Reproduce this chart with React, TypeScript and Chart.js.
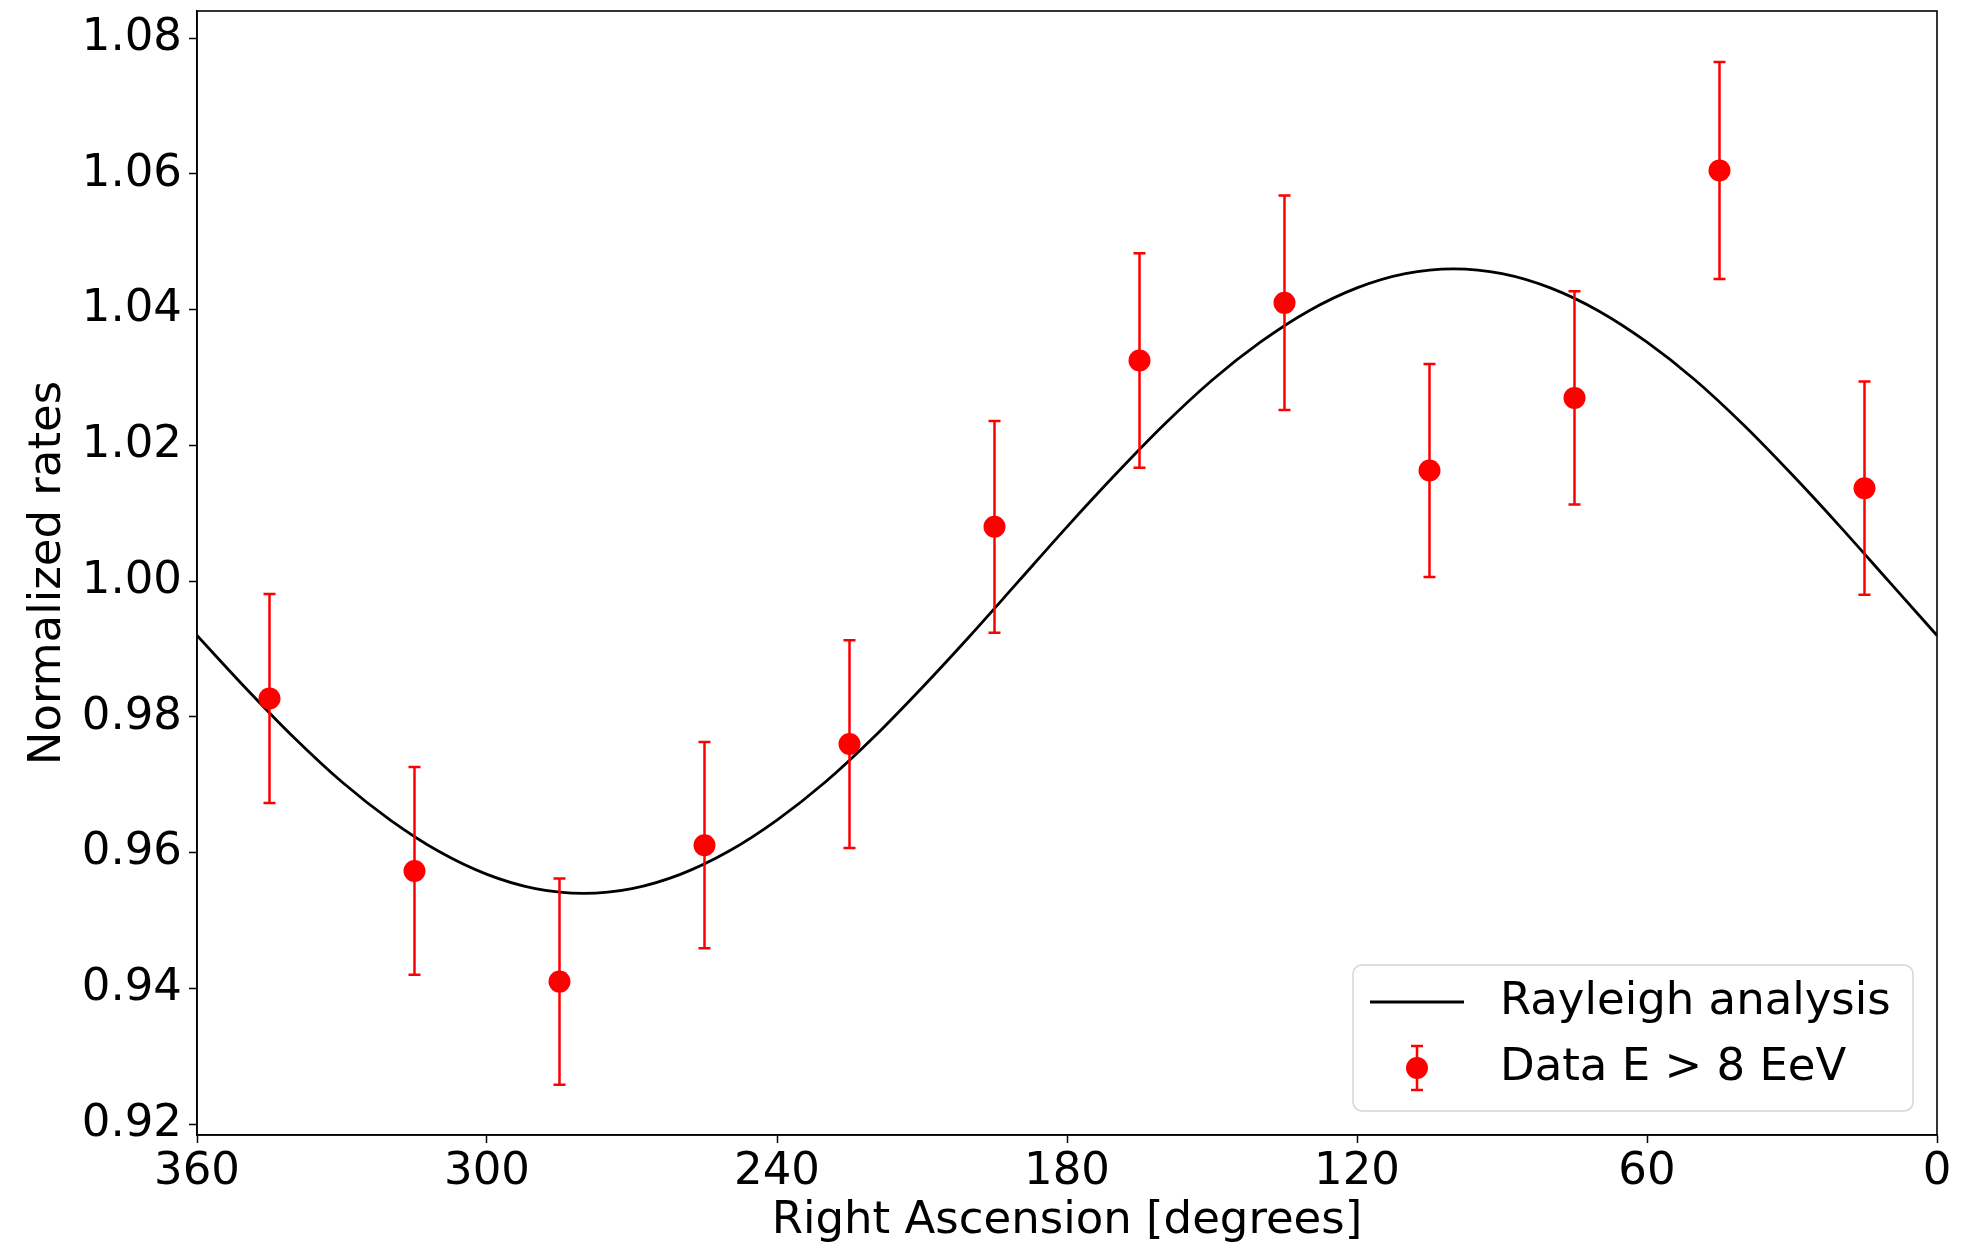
import React, { useEffect, useRef } from "react";
import { Chart, registerables } from "chart.js";

Chart.register(...registerables);

// ---- data ----
const raBins = [345, 315, 285, 255, 225, 195, 165, 135, 105, 75, 45, 15];
const rates = [0.9827, 0.9573, 0.941, 0.9611, 0.976, 1.008, 1.0325, 1.041, 1.0163, 1.027, 1.0605, 1.0137];
const rateErrors = [0.0154, 0.0153, 0.0152, 0.0152, 0.0153, 0.0156, 0.0158, 0.0158, 0.0157, 0.0157, 0.016, 0.0157];

const curveRA = [0, 10, 20, 30, 40, 50, 60, 70, 80, 90, 100, 110, 120, 130, 140, 150, 160, 170, 180, 190, 200, 210, 220, 230, 240, 250, 260, 270, 280, 290, 300, 310, 320, 330, 340, 350, 360];
const curveRates = [0.992, 1.0, 1.008, 1.0157, 1.023, 1.0296, 1.0352, 1.0398, 1.0432, 1.0453, 1.046, 1.0453, 1.0432, 1.0398, 1.0352, 1.0296, 1.023, 1.0157, 1.008, 1.0, 0.992, 0.9843, 0.977, 0.9704, 0.9648, 0.9602, 0.9568, 0.9547, 0.954, 0.9547, 0.9568, 0.9602, 0.9648, 0.9704, 0.977, 0.9843, 0.992];

const xTicks = [360, 300, 240, 180, 120, 60, 0];
const yTicks = [0.92, 0.94, 0.96, 0.98, 1.0, 1.02, 1.04, 1.06, 1.08];
const xRange = [0, 360];
const yRange = [0.9184, 1.084];

const curveLabel = "Rayleigh analysis";
const dataLabel = "Data E > 8 EeV";
const xTitle = "Right Ascension [degrees]";
const yTitle = "Normalized rates";

const FONT = "'DejaVu Sans', 'Liberation Sans', sans-serif";
const FS = 45;
const RED = "#ff0000";
const POINT_R = 11;
const CAP = 6;

const POINTS_INDEX = 0;
const CURVE_INDEX = 1;

function drawErrorBar(ctx: CanvasRenderingContext2D, x: number, yTop: number, yBot: number) {
  ctx.beginPath();
  ctx.moveTo(x, yTop);
  ctx.lineTo(x, yBot);
  ctx.moveTo(x - CAP, yTop);
  ctx.lineTo(x + CAP, yTop);
  ctx.moveTo(x - CAP, yBot);
  ctx.lineTo(x + CAP, yBot);
  ctx.stroke();
}

const errorBarPlugin = {
  id: "errorBars",
  afterDatasetDraw(chart: any, args: any) {
    if (args.index !== CURVE_INDEX) return;
    const { ctx, scales } = chart;
    const xs = scales.x;
    const ys = scales.y;
    ctx.save();
    ctx.strokeStyle = RED;
    ctx.lineWidth = 2.5;
    raBins.forEach((ra, i) => {
      const x = xs.getPixelForValue(ra);
      const yt = ys.getPixelForValue(rates[i] + rateErrors[i]);
      const yb = ys.getPixelForValue(rates[i] - rateErrors[i]);
      drawErrorBar(ctx, x, yt, yb);
    });
    ctx.restore();
  },
};

const framePlugin = {
  id: "frameAndLegend",
  afterDraw(chart: any) {
    const { ctx, chartArea: ca } = chart;
    ctx.save();
    // spines
    ctx.strokeStyle = "#000";
    ctx.lineWidth = 1.6;
    ctx.strokeRect(ca.left, ca.top, ca.right - ca.left, ca.bottom - ca.top);

    // legend
    const w = 560;
    const h = 146;
    const right = ca.right - 24;
    const bottom = ca.bottom - 24;
    const left = right - w;
    const top = bottom - h;
    const r = 9;
    ctx.beginPath();
    ctx.moveTo(left + r, top);
    ctx.lineTo(right - r, top);
    ctx.arcTo(right, top, right, top + r, r);
    ctx.lineTo(right, bottom - r);
    ctx.arcTo(right, bottom, right - r, bottom, r);
    ctx.lineTo(left + r, bottom);
    ctx.arcTo(left, bottom, left, bottom - r, r);
    ctx.lineTo(left, top + r);
    ctx.arcTo(left, top, left + r, top, r);
    ctx.closePath();
    ctx.fillStyle = "rgba(255,255,255,0.8)";
    ctx.fill();
    ctx.strokeStyle = "#d6d6d6";
    ctx.lineWidth = 1.5;
    ctx.stroke();

    const row1 = top + 37;
    const row2 = top + 103;
    // line handle
    ctx.strokeStyle = "#000";
    ctx.lineWidth = 2.8;
    ctx.beginPath();
    ctx.moveTo(left + 17, row1);
    ctx.lineTo(left + 111, row1);
    ctx.stroke();
    // errorbar handle
    const mx = left + 64;
    ctx.strokeStyle = RED;
    ctx.lineWidth = 2.5;
    drawErrorBar(ctx, mx, row2 - 22, row2 + 22);
    ctx.fillStyle = RED;
    ctx.beginPath();
    ctx.arc(mx, row2, POINT_R, 0, Math.PI * 2);
    ctx.fill();

    ctx.fillStyle = "#000";
    ctx.font = `${FS}px ${FONT}`;
    ctx.textAlign = "left";
    ctx.textBaseline = "middle";
    ctx.fillText(curveLabel, left + 147, row1);
    ctx.fillText(dataLabel, left + 147, row2);
    ctx.restore();
  },
};

export default function App() {
  const ref = useRef<HTMLCanvasElement>(null);

  useEffect(() => {
    const canvas = ref.current!;
    const chart = new Chart(canvas, {
      type: "scatter",
      data: {
        datasets: [
          {
            label: dataLabel,
            data: raBins.map((x, i) => ({ x, y: rates[i] })),
            backgroundColor: RED,
            borderColor: RED,
            pointRadius: POINT_R,
            pointBorderWidth: 0,
            showLine: false,
          },
          {
            label: curveLabel,
            data: curveRA.map((x, i) => ({ x, y: curveRates[i] })),
            borderColor: "#000",
            borderWidth: 2.8,
            pointRadius: 0,
            showLine: true,
            cubicInterpolationMode: "monotone",
          } as any,
        ],
      },
      options: {
        animation: false,
        responsive: false,
        devicePixelRatio: 1,
        layout: { padding: { top: 6, right: 34, left: 0, bottom: 0 } },
        plugins: {
          legend: { display: false },
          tooltip: { enabled: false },
        },
        scales: {
          x: {
            type: "linear",
            reverse: true,
            min: xRange[0],
            max: xRange[1],
            afterBuildTicks: (s: any) => {
              s.ticks = xTicks.map((v) => ({ value: v }));
            },
            afterFit: (s: any) => {
              s.height = 113;
              s.paddingLeft = 0;
              s.paddingRight = 0;
            },
            ticks: {
              autoSkip: false,
              maxRotation: 0,
              minRotation: 0,
              padding: 2,
              color: "#000",
              font: { family: FONT, size: FS },
              callback: (v: any) => String(v),
            },
            grid: {
              display: true,
              drawOnChartArea: false,
              drawTicks: true,
              tickLength: 8,
              tickColor: "#000",
              tickWidth: 1.5,
            },
            border: { display: true, color: "#000", width: 1.6 },
            title: {
              display: true,
              text: xTitle,
              color: "#000",
              font: { family: FONT, size: FS },
              padding: { top: 0, bottom: 0 },
            },
          },
          y: {
            type: "linear",
            min: yRange[0],
            max: yRange[1],
            afterBuildTicks: (s: any) => {
              s.ticks = yTicks.map((v) => ({ value: v }));
            },
            afterFit: (s: any) => {
              s.width = 197;
              s.paddingTop = 0;
              s.paddingBottom = 0;
            },
            ticks: {
              autoSkip: false,
              padding: 7,
              color: "#000",
              font: { family: FONT, size: FS },
              callback: (v: any) => Number(v).toFixed(2),
            },
            grid: {
              display: true,
              drawOnChartArea: false,
              drawTicks: true,
              tickLength: 8,
              tickColor: "#000",
              tickWidth: 1.5,
            },
            border: { display: true, color: "#000", width: 1.6 },
            title: {
              display: true,
              text: yTitle,
              color: "#000",
              font: { family: FONT, size: FS },
              padding: { top: 21, bottom: 0 },
            },
          },
        },
      },
      plugins: [errorBarPlugin, framePlugin],
    } as any);
    return () => chart.destroy();
  }, []);

  return (
    <div style={{ position: "fixed", left: 0, top: 0, width: 1971, height: 1248, background: "#fff" }}>
      <canvas ref={ref} width={1971} height={1248} style={{ display: "block", width: 1971, height: 1248 }} />
    </div>
  );
}
